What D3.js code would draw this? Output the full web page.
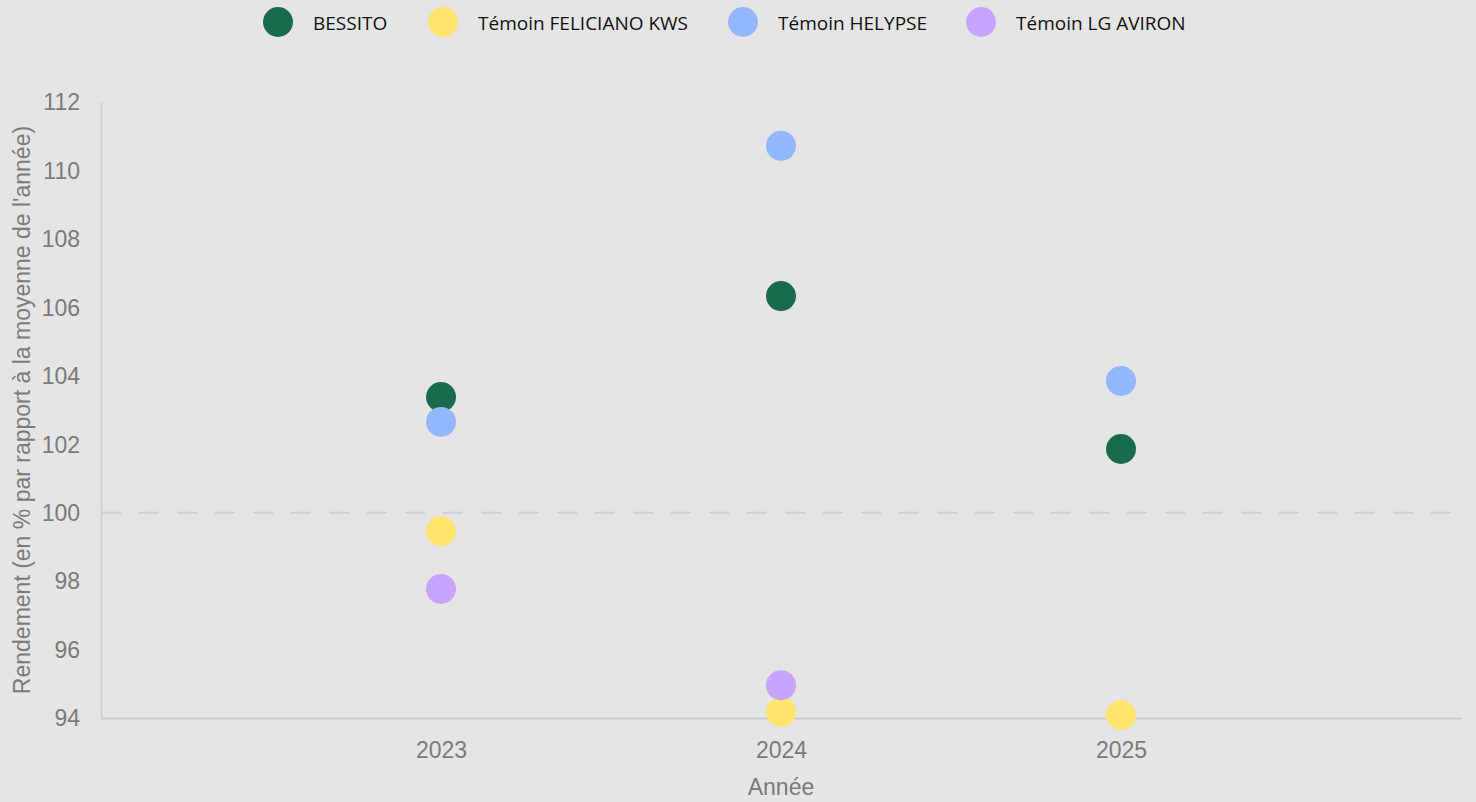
<!DOCTYPE html>
<html><head><meta charset="utf-8">
<script src="https://cdn.jsdelivr.net/npm/d3@7"></script>
<style>
html,body{margin:0;padding:0;background:#e5e5e5;}
svg{display:block;}
</style></head>
<body>
<svg id="chart" width="1476" height="802"></svg>
<script>
const years = [2023, 2024, 2025];
const seriesNames = ["BESSITO", "Témoin FELICIANO KWS", "Témoin HELYPSE", "Témoin LG AVIRON"];
const seriesColors = ["#186c4b", "#ffe46e", "#93b8ff", "#c8a3ff"];
const bessito = [103.38, 106.33, 101.86];
const feliciano = [99.46, 94.18, 94.09];
const helypse = [102.65, 110.72, 103.85];
const lgAviron = [97.77, 94.96, null];
const yTicks = [94, 96, 98, 100, 102, 104, 106, 108, 110, 112];
const refLine = 100;
const xTitle = "Année";
const yTitle = "Rendement (en % par rapport à la moyenne de l'année)";

(function () {
const seriesValues = [bessito, feliciano, helypse, lgAviron];
const svg = d3.select("#chart");
const mLeft = 101, mRight = 1461, mTop = 102, mBottom = 718;
const axisFont = "Liberation Sans, Arial, sans-serif";
const axisColor = "#7a7a7a";

const x = d3.scalePoint().domain(years).range([mLeft, mRight]).padding(1);
const y = d3.scaleLinear().domain([94, 112]).range([mBottom, mTop]);

const yAxis = svg.append("g").attr("transform", `translate(${mLeft},0)`)
  .call(d3.axisLeft(y).tickValues(yTicks).tickSize(0).tickPadding(21));
yAxis.select(".domain").attr("stroke", "#cccccc").attr("stroke-width", 1.5);
yAxis.selectAll("text").attr("fill", axisColor).style("font-family", axisFont).style("font-size", "23px").attr("dy", "0.34em");

const xAxis = svg.append("g").attr("transform", `translate(0,${mBottom})`)
  .call(d3.axisBottom(x).tickSize(0).tickPadding(24).tickSizeOuter(0));
xAxis.select(".domain").attr("stroke", "#cccccc").attr("stroke-width", 2);
xAxis.selectAll("text").attr("fill", axisColor).style("font-family", axisFont).style("font-size", "23px");

svg.append("line").attr("x1", mLeft).attr("x2", mRight)
  .attr("y1", y(refLine)).attr("y2", y(refLine))
  .attr("stroke", "#cfcfcf").attr("stroke-width", 2).attr("stroke-dasharray", "20,18");

svg.append("text").attr("x", (mLeft + mRight) / 2).attr("y", 795)
  .attr("text-anchor", "middle").attr("fill", axisColor)
  .style("font-family", axisFont).style("font-size", "23px").text(xTitle);
svg.append("text").attr("transform", `translate(30,${(mTop + mBottom) / 2}) rotate(-90)`)
  .attr("text-anchor", "middle").attr("fill", axisColor)
  .style("font-family", axisFont).style("font-size", "23px").text(yTitle);

seriesValues.forEach((vals, si) => {
  svg.append("g").selectAll("circle")
    .data(years.map((yr, i) => ({yr, v: vals[i]})).filter(d => d.v != null))
    .join("circle")
    .attr("cx", d => x(d.yr)).attr("cy", d => y(d.v)).attr("r", 15)
    .attr("fill", seriesColors[si]);
});

const legendX = [278, 443, 743, 981];
const lg = svg.append("g");
seriesNames.forEach((n, i) => {
  lg.append("circle").attr("cx", legendX[i]).attr("cy", 22).attr("r", 15).attr("fill", seriesColors[i]);
  lg.append("text").attr("x", legendX[i] + 35).attr("y", 23).attr("dy", "0.35em")
    .attr("fill", "#111").style("font-family", "Open Sans, sans-serif").style("font-size", "19px").text(n);
});
})();
</script>
</body></html>
